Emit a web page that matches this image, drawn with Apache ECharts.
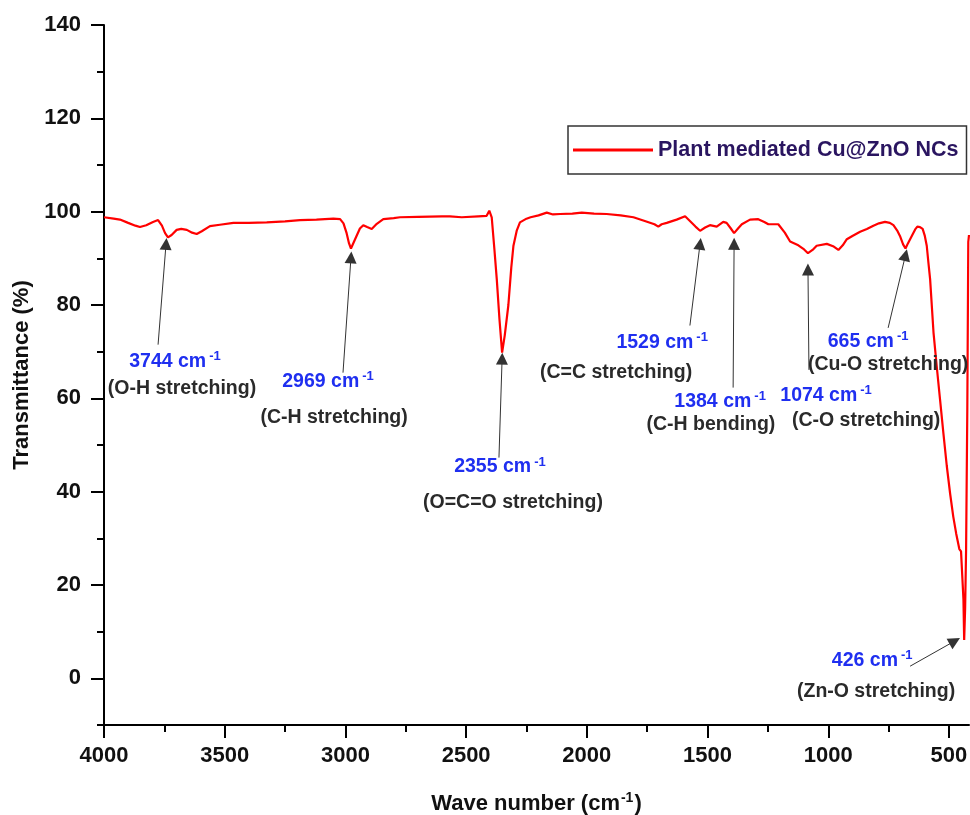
<!DOCTYPE html>
<html><head><meta charset="utf-8">
<script src="https://cdn.jsdelivr.net/npm/echarts@6/dist/echarts.min.js"></script>
<style>html,body{margin:0;padding:0;background:#fff}#c{width:970px;height:815px}</style>
</head><body><div id="c"></div>
<script>
const wavenumbers = [4000,3960,3934,3900,3870,3851,3825,3797,3776,3760,3747,3735,3720,3699,3680,3657,3635,3616,3595,3561,3520,3464,3400,3326,3250,3188,3120,3050,3022,3008,2995,2985,2977,2965,2953,2940,2926,2910,2891,2870,2843,2800,2774,2700,2600,2567,2518,2450,2415,2404,2394,2383,2373,2362,2351,2340,2325,2313,2304,2290,2277,2250,2233,2200,2166,2140,2111,2060,2021,1970,1918,1860,1807,1760,1720,1704,1690,1669,1628,1593,1573,1550,1531,1510,1490,1462,1435,1421,1405,1390,1372,1358,1324,1290,1265,1248,1207,1180,1158,1124,1100,1084,1065,1048,1006,980,958,940,923,900,868,840,813,790,765,745,730,715,703,690,680,670,654,640,631,620,609,600,592,585,578,564,550,537,523,509,495,482,470,457,450,447,443,440,437,433,429,424,420,417];
const transmittance = [98.8,98.5,98.3,97.6,97.0,96.7,97.1,97.8,98.2,97.0,95.4,94.5,95.0,96.1,96.3,96.1,95.5,95.2,95.8,96.9,97.2,97.6,97.6,97.7,97.9,98.2,98.3,98.5,98.4,97.5,95.4,93.2,92.1,93.5,94.9,96.4,97.1,96.7,96.3,97.4,98.4,98.6,98.8,98.9,99.0,99.0,98.8,99.0,99.1,100.2,98.8,92.0,85.5,77.0,69.8,73.5,80.0,88.0,92.7,96.0,97.7,98.5,98.8,99.2,99.8,99.4,99.5,99.6,99.8,99.6,99.5,99.2,98.8,98.0,97.3,96.8,97.3,97.6,98.3,99.0,98.0,96.8,95.9,96.6,97.1,96.8,97.8,97.6,96.5,95.4,96.5,97.3,98.3,98.4,97.8,97.3,97.3,95.5,93.6,92.8,91.9,91.1,91.8,92.7,93.1,92.6,91.8,92.8,94.1,94.8,95.7,96.3,97.0,97.5,97.8,97.6,97.1,96.0,94.8,93.0,92.1,93.2,94.8,96.2,96.8,96.7,96.3,94.8,92.7,89.0,85.5,74.1,66.5,59.8,52.5,45.5,39.5,34.6,31.0,27.7,27.2,26.9,20.0,16.9,8.2,15.0,27.7,57.7,93.5,95.0];

const seriesName = 'Plant mediated Cu@ZnO NCs';
const xMajorTicks = [4000,3500,3000,2500,2000,1500,1000,500];
const xMinorTicks = [3750,3250,2750,2250,1750,1250,750];
const yMajorTicks = [0,20,40,60,80,100,120,140];
const yMinorTicks = [-10,10,30,50,70,90,110,130];

const peakValues = ['3744','2969','2355','1529','1384','1074','665','426'];
const peakNames = ['(O-H stretching)','(C-H stretching)','(O=C=O stretching)','(C=C stretching)','(C-H bending)','(C-O stretching)','(Cu-O stretching)','(Zn-O stretching)'];
const arrowTips = [[3743,93.1],[2977,90.2],[2351,68.5],[1531,93.1],[1390,93.1],[1084,87.6],[680,90.7],[476,8.0]];
const arrowTails = [[3776,71.5],[3010,65.5],[2364,47.3],[1573,75.6],[1394,62.3],[1080,66.1],[752,75.1],[661,2.6]];
const valueLabelAt = [[3706,67.9],[3072,63.6],[2360,45.3],[1688,71.9],[1448,59.3],[1009,60.6],[835,72.1],[818,3.9]];
const nameLabelAt = [[3677,62.1],[3047,55.9],[2306,37.6],[1879,65.5],[1486,54.3],[843,55.2],[752,67.2],[802,-2.9]];

const FONT = "'Liberation Sans', Arial, sans-serif";
const BLUE = '#1f2ff0';

const lineData = wavenumbers.map((w, i) => [w, transmittance[i]]);

const markPoints = [];
peakValues.forEach((p, i) => {
  markPoints.push({
    coord: valueLabelAt[i],
    label: { formatter: '{n|' + p + ' cm}{s|-1}' }
  });
  markPoints.push({
    coord: nameLabelAt[i],
    label: { formatter: '{b|' + peakNames[i] + '}' }
  });
});
const markLines = arrowTips.map((t, i) => [{ coord: arrowTails[i] }, { coord: t }]);

const axisCommonX = {
  type: 'value', inverse: true, min: 417, max: 4000, position: 'bottom',
  splitLine: { show: false }
};
const axisCommonY = {
  type: 'value', min: -10, max: 140, position: 'left',
  splitLine: { show: false }
};

const chart = echarts.init(document.getElementById('c'), null, { renderer: 'canvas' });
chart.setOption({
  animation: false,
  backgroundColor: '#fff',
  grid: { left: 104, right: 1, top: 25, bottom: 90, containLabel: false, outerBoundsMode: 'none' },
  legend: {
    data: [{ name: seriesName, icon: 'rect' }],
    left: 568, top: 126,
    padding: [13, 8, 13, 5],
    itemWidth: 80, itemHeight: 3,
    borderColor: '#333', borderWidth: 1.5,
    textStyle: { fontSize: 21.5, fontWeight: 'bold', color: '#2a1560', fontFamily: FONT }
  },
  xAxis: [
    Object.assign({}, axisCommonX, {
      name: '{a|Wave number (cm}{s|-1}{a|)}',
      nameLocation: 'middle', nameGap: 66,
      nameTextStyle: {
        rich: {
          a: { fontSize: 22, fontWeight: 'bold', color: '#111', fontFamily: FONT },
          s: { fontSize: 14, fontWeight: 'bold', color: '#111', fontFamily: FONT, padding: [0, 1, 11, 1] }
        }
      },
      axisLine: { show: true, onZero: false, lineStyle: { color: '#000', width: 2 } },
      axisTick: { show: true, customValues: xMajorTicks, length: 13, lineStyle: { color: '#000', width: 2 } },
      axisLabel: { show: true, customValues: xMajorTicks, margin: 20, fontSize: 22, fontWeight: 'bold', color: '#111', fontFamily: FONT, formatter: v => String(v) }
    }),
    Object.assign({}, axisCommonX, {
      axisLine: { show: false, onZero: false },
      axisTick: { show: true, customValues: xMinorTicks, length: 7, lineStyle: { color: '#000', width: 2 } },
      axisLabel: { show: false }
    })
  ],
  yAxis: [
    Object.assign({}, axisCommonY, {
      name: 'Transmittance (%)',
      nameLocation: 'middle', nameGap: 68, nameRotate: 90,
      nameTextStyle: { fontSize: 22, fontWeight: 'bold', color: '#111', fontFamily: FONT },
      axisLine: { show: true, onZero: false, lineStyle: { color: '#000', width: 2 } },
      axisTick: { show: true, customValues: yMajorTicks, length: 13, lineStyle: { color: '#000', width: 2 } },
      axisLabel: { show: true, customValues: yMajorTicks, margin: 23, fontSize: 22, fontWeight: 'bold', color: '#111', fontFamily: FONT, formatter: v => String(v) }
    }),
    Object.assign({}, axisCommonY, {
      axisLine: { show: false, onZero: false },
      axisTick: { show: true, customValues: yMinorTicks, length: 7, lineStyle: { color: '#000', width: 2 } },
      axisLabel: { show: false }
    })
  ],
  series: [{
    name: seriesName,
    type: 'line',
    xAxisIndex: 0, yAxisIndex: 0,
    data: lineData,
    showSymbol: false,
    symbol: 'none',
    smooth: false,
    color: '#ff0000',
    lineStyle: { color: '#ff0000', width: 2.2 },
    markLine: {
      silent: true,
      symbol: ['none', 'triangle'],
      symbolSize: 12,
      label: { show: false },
      lineStyle: { color: '#333', width: 1, type: 'solid' },
      emphasis: { disabled: true },
      data: markLines
    },
    markPoint: {
      silent: true,
      symbol: 'circle',
      symbolSize: 1,
      itemStyle: { color: 'rgba(0,0,0,0)' },
      label: {
        show: true, position: 'inside',
        rich: {
          n: { fontSize: 19.5, fontWeight: 'bold', color: BLUE, fontFamily: FONT },
          s: { fontSize: 13, fontWeight: 'bold', color: BLUE, fontFamily: FONT, padding: [0, 0, 10, 3] },
          b: { fontSize: 19.5, fontWeight: 'bold', color: '#2a2a2a', fontFamily: FONT }
        }
      },
      data: markPoints
    }
  }]
});
</script></body></html>
